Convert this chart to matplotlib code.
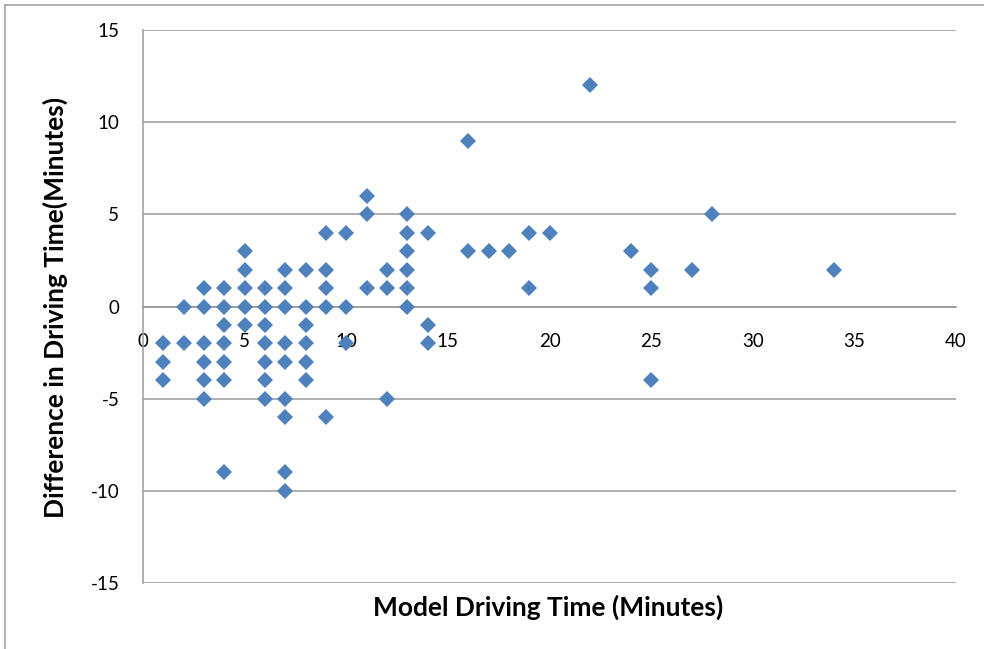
import matplotlib
matplotlib.use("Agg")
import matplotlib.pyplot as plt
from matplotlib.lines import Line2D

# Data: model driving time (x) and difference in driving time (y), minutes
model_time = [1, 1, 1,
              2, 2,
              3, 3, 3, 3, 3, 3,
              4, 4, 4, 4, 4, 4, 4,
              5, 5, 5, 5, 5,
              6, 6, 6, 6, 6, 6, 6,
              7, 7, 7, 7, 7, 7, 7, 7, 7,
              8, 8, 8, 8, 8, 8,
              9, 9, 9, 9, 9,
              10, 10, 10,
              11, 11, 11,
              12, 12, 12,
              13, 13, 13, 13, 13, 13,
              14, 14, 14,
              16, 16, 17, 18, 19, 19, 20, 22, 24,
              25, 25, 25, 27, 28, 34]
difference = [-2, -3, -4,
              0, -2,
              1, 0, -2, -3, -4, -5,
              1, 0, -1, -2, -3, -4, -9,
              3, 2, 1, 0, -1,
              1, 0, -1, -2, -3, -4, -5,
              2, 1, 0, -2, -3, -5, -6, -9, -10,
              2, 0, -1, -2, -3, -4,
              4, 2, 1, 0, -6,
              4, 0, -2,
              6, 5, 1,
              2, 1, -5,
              5, 4, 3, 2, 1, 0,
              4, -1, -2,
              9, 3, 3, 3, 4, 1, 4, 12, 3,
              2, 1, -4, 2, 5, 2]

x_ticks = [0, 5, 10, 15, 20, 25, 30, 35, 40]
y_ticks = [-15, -10, -5, 0, 5, 10, 15]

FONT = "Lato"
GRID = "#9a9a9a"
BLUE = "#4f81bd"

fig = plt.figure(figsize=(9.84, 6.49), dpi=100)
ax = fig.add_axes([143 / 984, 1 - 583 / 649, 813 / 984, 553 / 649])

ax.set_xlim(0, 40)
ax.set_ylim(-15, 15)

for y in y_ticks:
    ax.axhline(y, color=GRID, lw=1.1, zorder=1)

ax.plot(model_time, difference, linestyle="none", marker="D", ms=8.6,
        color=BLUE, markeredgewidth=0, zorder=3)

for s in ["top", "right"]:
    ax.spines[s].set_visible(False)
ax.spines["left"].set_color(GRID)
ax.spines["left"].set_linewidth(1.1)
ax.spines["bottom"].set_position(("data", 0))
ax.spines["bottom"].set_color(GRID)
ax.spines["bottom"].set_linewidth(1.1)

ax.set_xticks(x_ticks)
ax.set_xticklabels([str(v) for v in x_ticks])
ax.set_yticks(y_ticks)
ax.set_yticklabels([str(v) for v in y_ticks])
ax.tick_params(axis="x", length=0, pad=19, labelsize=13.5, labelcolor="#000000")
ax.tick_params(axis="y", length=0, pad=17, labelsize=13.5, labelcolor="#000000")
for lab in ax.get_xticklabels() + ax.get_yticklabels():
    lab.set_fontfamily(FONT)

fig.text(548 / 984, 1 - 607 / 649, "Model Driving Time (Minutes)", ha="center",
         va="center", fontsize=19, fontweight="bold", family=FONT)
fig.text(55 / 984, 1 - 307 / 649, "Difference in Driving Time(Minutes)", ha="center",
         va="center", rotation=90, fontsize=19, fontweight="bold", family=FONT)

# outer chart border (top and left)
fig.add_artist(Line2D([5 / 984, 1.0], [1 - 5 / 649, 1 - 5 / 649],
                      transform=fig.transFigure, color="#a6a6a6", lw=1.2))
fig.add_artist(Line2D([5 / 984, 5 / 984], [0.0, 1 - 5 / 649],
                      transform=fig.transFigure, color="#a6a6a6", lw=1.2))

fig.savefig("out.png", dpi=100)
